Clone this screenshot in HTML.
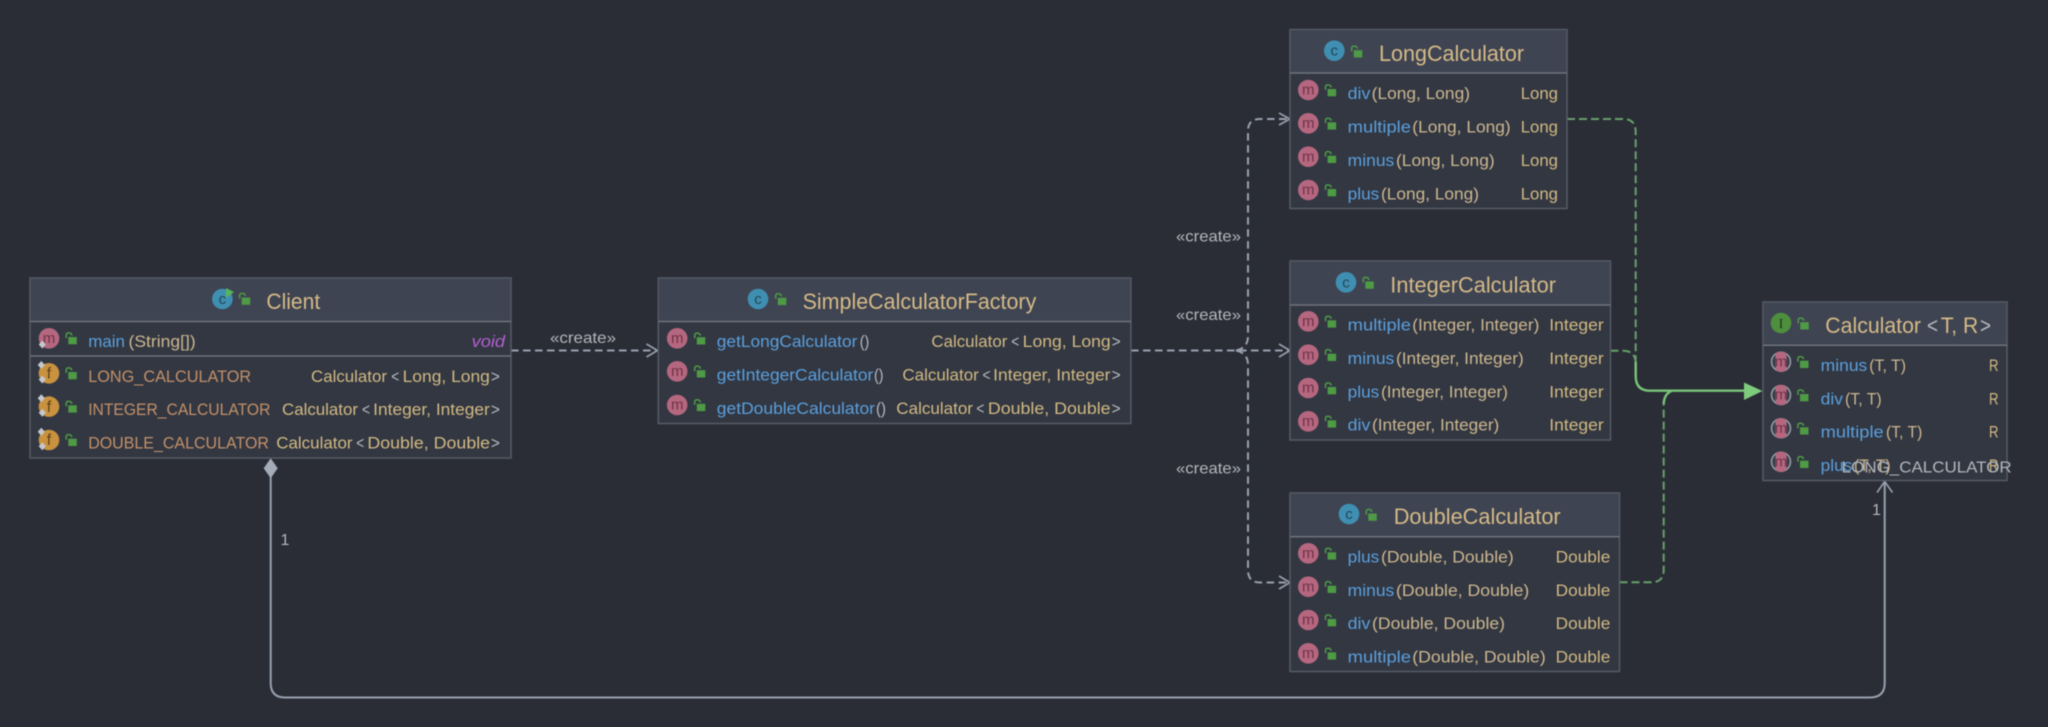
<!DOCTYPE html>
<html><head><meta charset="utf-8"><style>
html,body{margin:0;padding:0;background:#2a2d36;width:2048px;height:727px;overflow:hidden}
svg{display:block;filter:blur(.45px)}
text{font-family:"Liberation Sans",sans-serif;font-size:17px}
.t{font-size:22px;fill:#d6ba87}
.n{fill:#5b9fdc}.p{fill:#cdb78f}.y{fill:#d2b982}.f{fill:#c49068}.b{fill:#b8bbbf}
.v{fill:#b25fd0;font-style:italic}.g{fill:#b4b7bc;font-size:16px}
.m{font-size:15px;fill:#6f3348;text-anchor:middle}
.c{font-size:15px;fill:#234656;text-anchor:middle}
.ff{font-size:16px;fill:#5d4217;text-anchor:middle}
.hd{fill:#3e4452}.bd{fill:#323742;stroke:#565b66;stroke-width:1.5}
.sp{stroke:#6e727b;stroke-width:1.5}
</style></head><body>
<svg width="2048" height="727" viewBox="0 0 2048 727" xmlns="http://www.w3.org/2000/svg">
<defs>
<g id="k"><rect x="-2.7" y="-1.5" width="8.5" height="7.3" fill="#4f9a45"/><path d="M-4.8 -.5V-3.5Q-4.8 -5.6 -2.2 -5.6Q.6 -5.6 .8 -3" fill="none" stroke="#4f9a45" stroke-width="1.5"/></g>
<circle id="o" r="10.3" fill="#b5677f"/>
<circle id="bl" r="10.3" fill="#3f8fb2"/>
<circle id="fo" r="10.3" fill="#c9923f"/>
<path id="d" d="M0 -4L3.6 0L0 4L-3.6 0Z" fill="#c4c7cc"/>
<g id="ab"><circle r="9.5" fill="#3a3f4a" stroke="#9a9da3" stroke-width="1.5"/><rect x="-5.5" y="-10" width="11" height="20" rx="3.5" fill="#b5677f"/></g>
</defs>
<rect width="2048" height="727" fill="#2a2d36"/>

<!-- connectors -->
<g fill="none" stroke="#99a0ae" stroke-width="2">
<path d="M511 350.5H657" stroke-dasharray="7.5 4.5"/>
<path d="M646.5 344L657.5 350.5L646.5 357" stroke-width="1.6"/>
<path d="M1131 350.5H1288" stroke-dasharray="7.5 4.5"/>
<path d="M1236 350.5Q1248 348 1248 336V131Q1248 119 1260 119H1288" stroke-dasharray="7.5 4.5"/>
<path d="M1236 350.5Q1248 353 1248 365V570Q1248 582.5 1260 582.5H1288" stroke-dasharray="7.5 4.5"/>
<path d="M1279 113L1290 119L1279 125M1279 344L1290 350.5L1279 357M1279 576L1290 582.5L1279 589" stroke-width="1.6"/>
<path d="M270.7 476V683Q270.7 697.5 285 697.5H1870Q1884.7 697.5 1884.7 683V483"/>
<path d="M1877 492.5L1884.7 481.5L1892.5 492.5" stroke-width="1.6"/>
</g>
<path d="M270.7 458.3L277.7 468.3L270.7 478.3L263.7 468.3Z" fill="#a5acb9"/>

<g fill="none" stroke="#689f6b" stroke-width="2">
<path d="M1567 119H1623Q1635.7 119 1635.7 132V378" stroke-dasharray="8 4"/>
<path d="M1610.5 350.7H1623Q1635.7 350.7 1635.7 364" stroke-dasharray="8 4"/>
<path d="M1619.5 582.3H1651Q1663.7 582.3 1663.7 570V403" stroke-dasharray="8 4"/>
</g>
<g fill="none" stroke="#79c479" stroke-width="2.4">
<path d="M1635.7 362V376Q1635.7 390.7 1650 390.7H1746"/>
<path d="M1663.7 404Q1664 394 1672 390.7"/>
</g>
<path d="M1744 382.5L1762.5 391L1744 400Z" fill="#7fcb7c"/>

<!-- Client -->
<rect class="bd" x="30" y="278" width="481" height="180"/>
<rect class="hd" x="31" y="279" width="479" height="42"/>
<path class="sp" d="M30 321.5H511M30 356H511"/>
<use href="#bl" x="222.4" y="299"/><text class="c" x="222.4" y="304">c</text>
<path d="M226 288L234 292L226 298Z" fill="#57b55a"/>
<use href="#k" x="244.4" y="299"/>
<text class="t" x="266.4" y="309" textLength="53.8" lengthAdjust="spacingAndGlyphs">Client</text>

<use href="#o" x="49" y="338.3"/><text class="m" x="49" y="343">m</text><use href="#d" x="42.3" y="344.5"/><use href="#k" x="71" y="338.5"/>
<text class="n" x="88.2" y="347" textLength="36.8" lengthAdjust="spacingAndGlyphs">main</text>
<text class="p" x="128.5" y="347" textLength="67.2" lengthAdjust="spacingAndGlyphs">(String[])</text>
<text class="v" x="471.6" y="347" textLength="33.5" lengthAdjust="spacingAndGlyphs">void</text>

<use href="#fo" x="49" y="373.3"/><text class="ff" x="49" y="378.5">f</text><use href="#d" x="42.3" y="379.5"/><use href="#d" x="41.3" y="365"/><use href="#k" x="71" y="373.5"/>
<text class="f" x="88.2" y="382" textLength="163" lengthAdjust="spacingAndGlyphs">LONG_CALCULATOR</text>
<text class="y" x="311" y="382" textLength="76" lengthAdjust="spacingAndGlyphs">Calculator</text>
<text class="b" x="391.2" y="382" textLength="8" lengthAdjust="spacingAndGlyphs">&lt;</text>
<text class="y" x="402.6" y="382" textLength="87.3" lengthAdjust="spacingAndGlyphs">Long, Long</text>
<text class="b" x="490.9" y="382" textLength="9" lengthAdjust="spacingAndGlyphs">&gt;</text>

<use href="#fo" x="49" y="406.6"/><text class="ff" x="49" y="411.8">f</text><use href="#d" x="42.3" y="412.8"/><use href="#d" x="41.3" y="398.3"/><use href="#k" x="71" y="406.8"/>
<text class="f" x="88.2" y="415" textLength="182.2" lengthAdjust="spacingAndGlyphs">INTEGER_CALCULATOR</text>
<text class="y" x="282" y="415" textLength="76" lengthAdjust="spacingAndGlyphs">Calculator</text>
<text class="b" x="362" y="415" textLength="8" lengthAdjust="spacingAndGlyphs">&lt;</text>
<text class="y" x="373.2" y="415" textLength="116.6" lengthAdjust="spacingAndGlyphs">Integer, Integer</text>
<text class="b" x="490.9" y="415" textLength="9" lengthAdjust="spacingAndGlyphs">&gt;</text>

<use href="#fo" x="49" y="440"/><text class="ff" x="49" y="445.2">f</text><use href="#d" x="42.3" y="446.2"/><use href="#d" x="41.3" y="431.7"/><use href="#k" x="71" y="440.2"/>
<text class="f" x="88.2" y="448.5" textLength="180.8" lengthAdjust="spacingAndGlyphs">DOUBLE_CALCULATOR</text>
<text class="y" x="276.2" y="448.5" textLength="76.4" lengthAdjust="spacingAndGlyphs">Calculator</text>
<text class="b" x="356.3" y="448.5" textLength="8" lengthAdjust="spacingAndGlyphs">&lt;</text>
<text class="y" x="367.4" y="448.5" textLength="122.7" lengthAdjust="spacingAndGlyphs">Double, Double</text>
<text class="b" x="490.9" y="448.5" textLength="9" lengthAdjust="spacingAndGlyphs">&gt;</text>

<!-- SimpleCalculatorFactory -->
<rect class="bd" x="658.3" y="278" width="472.6" height="145.5"/>
<rect class="hd" x="659.3" y="279" width="470.6" height="42"/>
<path class="sp" d="M658.3 321.5H1130.9"/>
<use href="#bl" x="758" y="299"/><text class="c" x="758" y="304">c</text>
<use href="#k" x="780.5" y="299.3"/>
<text class="t" x="802.6" y="309" textLength="233.7" lengthAdjust="spacingAndGlyphs">SimpleCalculatorFactory</text>

<use href="#o" x="677.2" y="338.3"/><text class="m" x="677.2" y="343">m</text><use href="#k" x="699.5" y="338.7"/>
<text class="n" x="716.8" y="347" textLength="140.6" lengthAdjust="spacingAndGlyphs">getLongCalculator</text>
<text class="b" x="859.8" y="347" textLength="9.5" lengthAdjust="spacingAndGlyphs">()</text>
<text class="y" x="931.4" y="347" textLength="76" lengthAdjust="spacingAndGlyphs">Calculator</text>
<text class="b" x="1011.2" y="347" textLength="8" lengthAdjust="spacingAndGlyphs">&lt;</text>
<text class="y" x="1022.7" y="347" textLength="88" lengthAdjust="spacingAndGlyphs">Long, Long</text>
<text class="b" x="1111.6" y="347" textLength="9" lengthAdjust="spacingAndGlyphs">&gt;</text>

<use href="#o" x="677.2" y="371.3"/><text class="m" x="677.2" y="376">m</text><use href="#k" x="699.5" y="371.7"/>
<text class="n" x="716.8" y="380.5" textLength="156.5" lengthAdjust="spacingAndGlyphs">getIntegerCalculator</text>
<text class="b" x="874" y="380.5" textLength="9.5" lengthAdjust="spacingAndGlyphs">()</text>
<text class="y" x="902.4" y="380.5" textLength="76.4" lengthAdjust="spacingAndGlyphs">Calculator</text>
<text class="b" x="982.5" y="380.5" textLength="8" lengthAdjust="spacingAndGlyphs">&lt;</text>
<text class="y" x="993.2" y="380.5" textLength="117.3" lengthAdjust="spacingAndGlyphs">Integer, Integer</text>
<text class="b" x="1111.6" y="380.5" textLength="9" lengthAdjust="spacingAndGlyphs">&gt;</text>

<use href="#o" x="677.2" y="405"/><text class="m" x="677.2" y="409.7">m</text><use href="#k" x="699.5" y="405.3"/>
<text class="n" x="716.8" y="414" textLength="158.2" lengthAdjust="spacingAndGlyphs">getDoubleCalculator</text>
<text class="b" x="876" y="414" textLength="10" lengthAdjust="spacingAndGlyphs">()</text>
<text class="y" x="896.3" y="414" textLength="76.7" lengthAdjust="spacingAndGlyphs">Calculator</text>
<text class="b" x="976.4" y="414" textLength="8" lengthAdjust="spacingAndGlyphs">&lt;</text>
<text class="y" x="987.9" y="414" textLength="122.7" lengthAdjust="spacingAndGlyphs">Double, Double</text>
<text class="b" x="1111.6" y="414" textLength="9" lengthAdjust="spacingAndGlyphs">&gt;</text>

<!-- LongCalculator -->
<rect class="bd" x="1290" y="29.5" width="277" height="179"/>
<rect class="hd" x="1291" y="30.5" width="275" height="42"/>
<path class="sp" d="M1290 73H1567"/>
<use href="#bl" x="1334.3" y="50.7"/><text class="c" x="1334.3" y="55.7">c</text>
<use href="#k" x="1356.5" y="51.7"/>
<text class="t" x="1379" y="61" textLength="145" lengthAdjust="spacingAndGlyphs">LongCalculator</text>

<use href="#o" x="1308.3" y="90"/><text class="m" x="1308.3" y="94.7">m</text><use href="#k" x="1330.3" y="90.5"/>
<text class="n" x="1347.7" y="99" textLength="22.6" lengthAdjust="spacingAndGlyphs">div</text>
<text class="p" x="1371.7" y="99" textLength="98.3" lengthAdjust="spacingAndGlyphs">(Long, Long)</text>
<text class="y" x="1520.7" y="99" textLength="37.3" lengthAdjust="spacingAndGlyphs">Long</text>

<use href="#o" x="1308.3" y="123.3"/><text class="m" x="1308.3" y="128">m</text><use href="#k" x="1330.3" y="123.8"/>
<text class="n" x="1347.7" y="132.5" textLength="63.3" lengthAdjust="spacingAndGlyphs">multiple</text>
<text class="p" x="1412.3" y="132.5" textLength="98.4" lengthAdjust="spacingAndGlyphs">(Long, Long)</text>
<text class="y" x="1520.7" y="132.5" textLength="37.3" lengthAdjust="spacingAndGlyphs">Long</text>

<use href="#o" x="1308.3" y="156.7"/><text class="m" x="1308.3" y="161.4">m</text><use href="#k" x="1330.3" y="157.2"/>
<text class="n" x="1347.7" y="166" textLength="46.6" lengthAdjust="spacingAndGlyphs">minus</text>
<text class="p" x="1396" y="166" textLength="98.7" lengthAdjust="spacingAndGlyphs">(Long, Long)</text>
<text class="y" x="1520.7" y="166" textLength="37.3" lengthAdjust="spacingAndGlyphs">Long</text>

<use href="#o" x="1308.3" y="190"/><text class="m" x="1308.3" y="194.7">m</text><use href="#k" x="1330.3" y="190.5"/>
<text class="n" x="1347.7" y="199.5" textLength="31.6" lengthAdjust="spacingAndGlyphs">plus</text>
<text class="p" x="1381" y="199.5" textLength="98" lengthAdjust="spacingAndGlyphs">(Long, Long)</text>
<text class="y" x="1520.7" y="199.5" textLength="37.3" lengthAdjust="spacingAndGlyphs">Long</text>

<!-- IntegerCalculator -->
<rect class="bd" x="1290" y="261" width="320.5" height="179"/>
<rect class="hd" x="1291" y="262" width="318.5" height="43"/>
<path class="sp" d="M1290 305H1610.5"/>
<use href="#bl" x="1346" y="282.3"/><text class="c" x="1346" y="287.3">c</text>
<use href="#k" x="1368" y="283"/>
<text class="t" x="1390.3" y="292.5" textLength="165.7" lengthAdjust="spacingAndGlyphs">IntegerCalculator</text>

<use href="#o" x="1308.3" y="321.3"/><text class="m" x="1308.3" y="326">m</text><use href="#k" x="1330.3" y="321.8"/>
<text class="n" x="1347.7" y="330.5" textLength="63.3" lengthAdjust="spacingAndGlyphs">multiple</text>
<text class="p" x="1412.3" y="330.5" textLength="127" lengthAdjust="spacingAndGlyphs">(Integer, Integer)</text>
<text class="y" x="1549.3" y="330.5" textLength="54.4" lengthAdjust="spacingAndGlyphs">Integer</text>

<use href="#o" x="1308.3" y="354.7"/><text class="m" x="1308.3" y="359.4">m</text><use href="#k" x="1330.3" y="355.2"/>
<text class="n" x="1347.7" y="364" textLength="46.6" lengthAdjust="spacingAndGlyphs">minus</text>
<text class="p" x="1396" y="364" textLength="127.7" lengthAdjust="spacingAndGlyphs">(Integer, Integer)</text>
<text class="y" x="1549.3" y="364" textLength="54.4" lengthAdjust="spacingAndGlyphs">Integer</text>

<use href="#o" x="1308.3" y="388"/><text class="m" x="1308.3" y="392.7">m</text><use href="#k" x="1330.3" y="388.5"/>
<text class="n" x="1347.7" y="397.5" textLength="31.6" lengthAdjust="spacingAndGlyphs">plus</text>
<text class="p" x="1381" y="397.5" textLength="127" lengthAdjust="spacingAndGlyphs">(Integer, Integer)</text>
<text class="y" x="1549.3" y="397.5" textLength="54.4" lengthAdjust="spacingAndGlyphs">Integer</text>

<use href="#o" x="1308.3" y="421.3"/><text class="m" x="1308.3" y="426">m</text><use href="#k" x="1330.3" y="421.8"/>
<text class="n" x="1347.7" y="430.5" textLength="22.6" lengthAdjust="spacingAndGlyphs">div</text>
<text class="p" x="1372" y="430.5" textLength="127.3" lengthAdjust="spacingAndGlyphs">(Integer, Integer)</text>
<text class="y" x="1549.3" y="430.5" textLength="54.4" lengthAdjust="spacingAndGlyphs">Integer</text>

<!-- DoubleCalculator -->
<rect class="bd" x="1290" y="493" width="329.5" height="178.5"/>
<rect class="hd" x="1291" y="494" width="327.5" height="42.5"/>
<path class="sp" d="M1290 536.8H1619.5"/>
<use href="#bl" x="1349" y="514"/><text class="c" x="1349" y="519">c</text>
<use href="#k" x="1371" y="515"/>
<text class="t" x="1393.7" y="524" textLength="167" lengthAdjust="spacingAndGlyphs">DoubleCalculator</text>

<use href="#o" x="1308.3" y="553.3"/><text class="m" x="1308.3" y="558">m</text><use href="#k" x="1330.3" y="553.8"/>
<text class="n" x="1347.7" y="562.5" textLength="31.6" lengthAdjust="spacingAndGlyphs">plus</text>
<text class="p" x="1381" y="562.5" textLength="132.7" lengthAdjust="spacingAndGlyphs">(Double, Double)</text>
<text class="y" x="1555.7" y="562.5" textLength="54.6" lengthAdjust="spacingAndGlyphs">Double</text>

<use href="#o" x="1308.3" y="586.7"/><text class="m" x="1308.3" y="591.4">m</text><use href="#k" x="1330.3" y="587.2"/>
<text class="n" x="1347.7" y="596" textLength="46.6" lengthAdjust="spacingAndGlyphs">minus</text>
<text class="p" x="1396" y="596" textLength="133.3" lengthAdjust="spacingAndGlyphs">(Double, Double)</text>
<text class="y" x="1555.7" y="596" textLength="54.6" lengthAdjust="spacingAndGlyphs">Double</text>

<use href="#o" x="1308.3" y="620"/><text class="m" x="1308.3" y="624.7">m</text><use href="#k" x="1330.3" y="620.5"/>
<text class="n" x="1347.7" y="629" textLength="22.6" lengthAdjust="spacingAndGlyphs">div</text>
<text class="p" x="1372" y="629" textLength="133" lengthAdjust="spacingAndGlyphs">(Double, Double)</text>
<text class="y" x="1555.7" y="629" textLength="54.6" lengthAdjust="spacingAndGlyphs">Double</text>

<use href="#o" x="1308.3" y="653.3"/><text class="m" x="1308.3" y="658">m</text><use href="#k" x="1330.3" y="653.8"/>
<text class="n" x="1347.7" y="662.5" textLength="63.3" lengthAdjust="spacingAndGlyphs">multiple</text>
<text class="p" x="1412.3" y="662.5" textLength="133.4" lengthAdjust="spacingAndGlyphs">(Double, Double)</text>
<text class="y" x="1555.7" y="662.5" textLength="54.6" lengthAdjust="spacingAndGlyphs">Double</text>

<!-- Calculator interface -->
<rect class="bd" x="1763" y="302" width="244" height="178.5"/>
<rect class="hd" x="1764" y="303" width="242" height="42"/>
<path class="sp" d="M1763 345.3H2007"/>
<circle cx="1781" cy="323" r="10.3" fill="#4e8f3e"/>
<text x="1781" y="328" style="font-family:'Liberation Serif',serif;font-size:14px;fill:#1e3319;text-anchor:middle">I</text>
<use href="#k" x="1803" y="323.7"/>
<text class="t" x="1825.3" y="333" textLength="95.7" lengthAdjust="spacingAndGlyphs">Calculator</text>
<text class="t b" x="1927" y="333" textLength="11" lengthAdjust="spacingAndGlyphs">&lt;</text>
<text class="t" x="1940.7" y="333" textLength="37.6" lengthAdjust="spacingAndGlyphs">T, R</text>
<text class="t b" x="1980" y="333" textLength="11" lengthAdjust="spacingAndGlyphs">&gt;</text>

<use href="#ab" x="1781" y="361.7"/><text class="m" x="1781" y="366.4">m</text><use href="#k" x="1802.7" y="362.2"/>
<text class="n" x="1820.7" y="371" textLength="46.6" lengthAdjust="spacingAndGlyphs">minus</text>
<text class="p" x="1869.3" y="371" textLength="36.7" lengthAdjust="spacingAndGlyphs">(T, T)</text>
<text class="y" x="1989" y="371" textLength="9.5" lengthAdjust="spacingAndGlyphs">R</text>

<use href="#ab" x="1781" y="395"/><text class="m" x="1781" y="399.7">m</text><use href="#k" x="1802.7" y="395.5"/>
<text class="n" x="1820.7" y="404.5" textLength="22.3" lengthAdjust="spacingAndGlyphs">div</text>
<text class="p" x="1845" y="404.5" textLength="36.7" lengthAdjust="spacingAndGlyphs">(T, T)</text>
<text class="y" x="1989" y="404.5" textLength="9.5" lengthAdjust="spacingAndGlyphs">R</text>

<use href="#ab" x="1781" y="428.3"/><text class="m" x="1781" y="433">m</text><use href="#k" x="1802.7" y="428.8"/>
<text class="n" x="1820.7" y="437.7" textLength="63" lengthAdjust="spacingAndGlyphs">multiple</text>
<text class="p" x="1886" y="437.7" textLength="36.3" lengthAdjust="spacingAndGlyphs">(T, T)</text>
<text class="y" x="1989" y="437.7" textLength="9.5" lengthAdjust="spacingAndGlyphs">R</text>

<use href="#ab" x="1781" y="461.7"/><text class="m" x="1781" y="466.4">m</text><use href="#k" x="1802.7" y="462.2"/>
<text class="n" x="1820.7" y="471" textLength="31.6" lengthAdjust="spacingAndGlyphs">plus</text>
<text class="p" x="1854" y="471" textLength="36.7" lengthAdjust="spacingAndGlyphs">(T, T)</text>
<text class="y" x="1989" y="471" textLength="9.5" lengthAdjust="spacingAndGlyphs">R</text>

<!-- labels -->
<text class="g" x="550" y="343" textLength="66" lengthAdjust="spacingAndGlyphs">«create»</text>
<text class="g" x="1176" y="241.7" textLength="65" lengthAdjust="spacingAndGlyphs">«create»</text>
<text class="g" x="1176" y="320" textLength="65" lengthAdjust="spacingAndGlyphs">«create»</text>
<text class="g" x="1176" y="473.3" textLength="65" lengthAdjust="spacingAndGlyphs">«create»</text>
<text class="g" x="280.5" y="545">1</text>
<text class="g" x="1872" y="515">1</text>
<text class="g" x="1841.7" y="472.7" textLength="170" lengthAdjust="spacingAndGlyphs">LONG_CALCULATOR</text>
</svg>
</body></html>
